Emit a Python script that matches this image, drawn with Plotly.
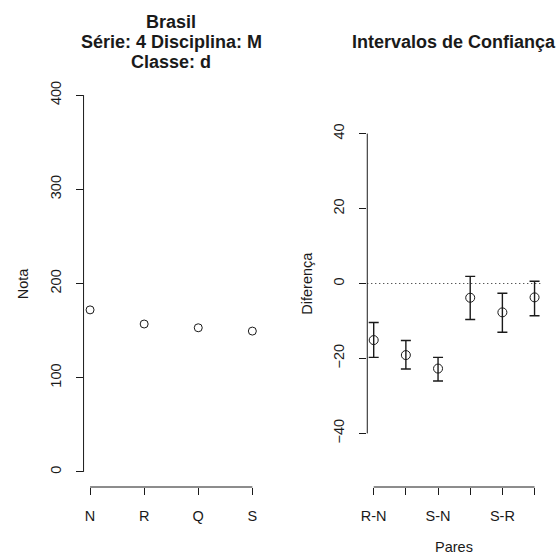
import plotly.graph_objects as go

# ---- data ----
groups = ["N", "R", "Q", "S"]
nota = [172, 157, 153, 149.5]

pairs = ["R-N", "Q-N", "S-N", "Q-R", "S-R", "S-Q"]
diff = [-15.1, -19.1, -22.7, -3.8, -7.7, -3.7]
ci_low = [-19.7, -22.8, -26.0, -9.6, -13.0, -8.6]
ci_high = [-10.4, -15.2, -19.7, 1.9, -2.6, 0.6]

left_ticks = [0, 100, 200, 300, 400]
right_ticks = [-40, -20, 0, 20, 40]

# ---- figure ----
W = H = 558
FONT = "Liberation Sans, Arial, Helvetica, sans-serif"
INK = "#1a1a1a"

def px_x(p):
    return p / W

def px_y(p):
    return 1 - p / H

gx = list(range(1, len(groups) + 1))
px_ = list(range(1, len(pairs) + 1))

fig = go.Figure()
fig.add_trace(go.Scatter(
    x=gx, y=nota, mode="markers", xaxis="x", yaxis="y",
    marker=dict(symbol="circle-open", size=8, color=INK, line=dict(width=1, color=INK)),
    showlegend=False, hoverinfo="skip"))

fig.add_trace(go.Scatter(
    x=px_, y=diff, mode="markers", xaxis="x2", yaxis="y2",
    marker=dict(symbol="circle-open", size=9, color=INK, line=dict(width=1, color=INK)),
    error_y=dict(type="data", symmetric=False,
                 array=[h - d for h, d in zip(ci_high, diff)],
                 arrayminus=[d - l for d, l in zip(diff, ci_low)],
                 color=INK, thickness=1.4, width=5),
    showlegend=False, hoverinfo="skip"))

plot_top, plot_bot = 80, 487
ydom = [px_y(plot_bot), px_y(plot_top)]

axis_common = dict(showline=False, zeroline=False, showgrid=False, ticks="outside",
                   ticklen=7, tickwidth=1, tickcolor=INK,
                   tickfont=dict(family=FONT, size=14.5, color=INK))

fig.update_layout(
    width=W, height=H, margin=dict(l=0, r=0, t=0, b=0),
    plot_bgcolor="white", paper_bgcolor="white",
    xaxis=dict(domain=[px_x(78.4), px_x(255.6)], range=[0.88, len(groups) + 0.12],
               tickmode="array", tickvals=gx, ticktext=groups, anchor="y",
               ticklabelstandoff=9, **axis_common),
    yaxis=dict(domain=ydom, range=[-16, 416], tickmode="array", tickvals=left_ticks,
               tickangle=-90, anchor="x", ticklabelstandoff=9, **axis_common),
    xaxis2=dict(domain=[px_x(365.2), px_x(540.8)], range=[0.8, len(pairs) + 0.2],
                tickmode="array", tickvals=px_,
                ticktext=[p if i % 2 == 0 else "" for i, p in enumerate(pairs)],
                anchor="y2", ticklabelstandoff=9, **axis_common),
    yaxis2=dict(domain=ydom, range=[-54.3, 54.3], tickmode="array", tickvals=right_ticks,
                tickangle=-90, anchor="x2", ticklabelstandoff=9, **axis_common),
)

line = dict(color=INK, width=1)
shapes = [
    # left axis lines (span first to last tick, like R)
    dict(type="line", xref="x", yref="y domain", x0=gx[0], x1=gx[-1], y0=0, y1=0, line=line),
    dict(type="line", xref="x domain", yref="y", x0=0, x1=0, y0=left_ticks[0], y1=left_ticks[-1], line=line),
    # right axis lines
    dict(type="line", xref="x2", yref="y2 domain", x0=px_[0], x1=px_[-1], y0=0, y1=0, line=line),
    dict(type="line", xref="x2 domain", yref="y2", x0=0, x1=0, y0=right_ticks[0], y1=right_ticks[-1], line=line),
    # reference line at zero
    dict(type="line", xref="x2 domain", yref="y2", x0=0, x1=1, y0=0, y1=0,
         line=dict(color=INK, width=1, dash="1px,3px")),
]
fig.update_layout(shapes=shapes)

ann = []
title_font = dict(family=FONT, size=18, color=INK)
cx_left = px_x((78.4 + 255.6) / 2)
for txt, yc in [("<b>Brasil</b>", 21.5), ("<b>Série: 4 Disciplina: M</b>", 41.5), ("<b>Classe: d</b>", 62.5)]:
    ann.append(dict(text=txt, x=cx_left, y=px_y(yc), xref="paper", yref="paper",
                    xanchor="center", yanchor="middle", showarrow=False, font=title_font))
ann.append(dict(text="<b>Intervalos de Confiança</b>", x=px_x((365.2 + 540.8) / 2), y=px_y(42.5),
                xref="paper", yref="paper", xanchor="center", yanchor="middle",
                showarrow=False, font=title_font))
lab_font = dict(family=FONT, size=14.5, color=INK)
ann.append(dict(text="Nota", x=px_x(17), y=px_y(283.5), xref="paper", yref="paper",
                xanchor="center", yanchor="middle", textangle=-90, showarrow=False, font=lab_font))
ann.append(dict(text="Diferença", x=px_x(303.5), y=px_y(283.5), xref="paper", yref="paper",
                xanchor="center", yanchor="middle", textangle=-90, showarrow=False, font=lab_font))
ann.append(dict(text="Pares", x=px_x(453), y=px_y(557), xref="paper", yref="paper",
                xanchor="center", yanchor="bottom", showarrow=False, font=lab_font))
fig.update_layout(annotations=ann)

fig.write_html("out.html")
